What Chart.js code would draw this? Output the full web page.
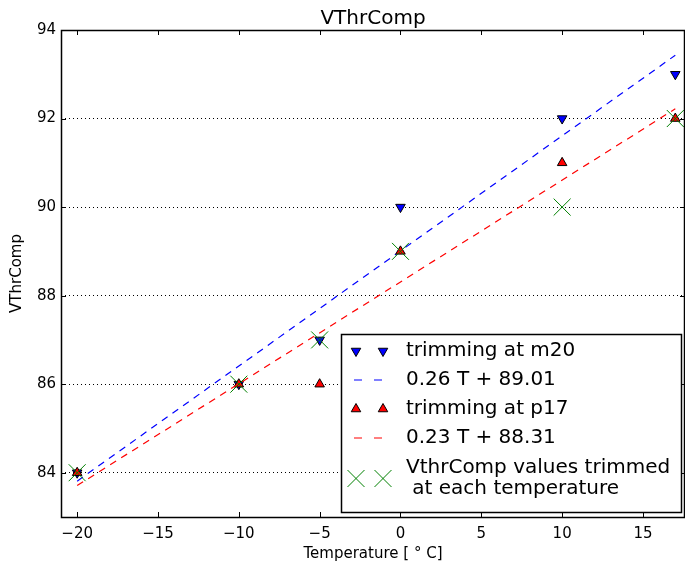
<!DOCTYPE html>
<html>
<head>
<meta charset="utf-8">
<script src="https://cdn.jsdelivr.net/npm/chart.js@4"></script>
<style>
  html, body { margin: 0; padding: 0; background: #fff; overflow: hidden; }
  #wrap { width: 685px; height: 567px; position: relative; }
</style>
</head>
<body>
<div id="wrap"><canvas id="vthr"></canvas></div>
<script>
(function () {
    'use strict';
    // values
    var temps = [-20, -10, -5, 0, 10, 17];
    var m20Values = [84, 86, 87, 90, 92, 93];
    var p17Values = [84, 86, 86, 89, 91, 92];
    var trimmedValues = [84, 86, 87, 89, 90, 92];
    var fitX = [-20, 17];
    var m20Fit = [83.81, 93.43];
    var p17Fit = [83.71, 92.22];
    var xTicks = [-20, -15, -10, -5, 0, 5, 10, 15];
    var yTicks = [84, 86, 88, 90, 92, 94];
    var legendLabels = ['trimming at m20', '0.26 T + 89.01', 'trimming at p17', '0.23 T + 88.31',
        'VthrComp values trimmed', ' at each temperature'];

    var FONT = 'DejaVu Sans';
    function pts(xs, ys) { return xs.map(function (x, i) { return { x: x, y: ys[i] }; }); }
    function fmt(v) { return v < 0 ? '\u2212' + Math.abs(v) : String(v); }

    var framePlugin = {
        id: 'frame',
        afterDatasetsDraw: function (chart) {
            var ctx = chart.ctx, a = chart.chartArea;
            var xs = chart.scales.x, ys = chart.scales.y;
            ctx.save();
            ctx.strokeStyle = '#000';
            ctx.lineWidth = 1;
            ctx.beginPath();
            xTicks.forEach(function (t) {
                var px = Math.round(xs.getPixelForValue(t)) + 0.5;
                ctx.moveTo(px, a.bottom); ctx.lineTo(px, a.bottom - 5);
                ctx.moveTo(px, a.top); ctx.lineTo(px, a.top + 5);
            });
            yTicks.forEach(function (t) {
                var py = Math.round(ys.getPixelForValue(t)) + 0.5;
                ctx.moveTo(a.left, py); ctx.lineTo(a.left + 5, py);
                ctx.moveTo(a.right, py); ctx.lineTo(a.right - 5, py);
            });
            ctx.stroke();
            ctx.lineWidth = 1.5;
            ctx.strokeRect(a.left + 0.5, a.top + 0.5, a.right - a.left - 1, a.bottom - a.top);
            ctx.fillStyle = '#000';
            ctx.font = '20px "' + FONT + '"';
            ctx.textAlign = 'center';
            ctx.textBaseline = 'alphabetic';
            ctx.fillText('VThrComp', (a.left + a.right) / 2, 24);
            ctx.restore();
        },
        afterDraw: function (chart) {
            var ctx = chart.ctx, a = chart.chartArea;
            var bx = a.right - 344, by = a.bottom - 183, bw = 340, bh = 178;
            var mx1 = bx + 15, mx2 = bx + 42, tx = bx + 65;
            var rows = [by + 17, by + 46, by + 75, by + 104, by + 134, by + 155];
            var draw = Chart.helpers.drawPoint;
            ctx.save();
            ctx.fillStyle = '#fff';
            ctx.fillRect(bx, by, bw, bh);
            ctx.strokeStyle = '#000';
            ctx.lineWidth = 1.5;
            ctx.strokeRect(bx + 0.5, by + 0.5, bw, bh);
            // markers
            ctx.lineWidth = 1;
            [mx1, mx2].forEach(function (mx) {
                ctx.fillStyle = '#0000ff'; ctx.strokeStyle = '#000';
                draw(ctx, { pointStyle: 'triangle', radius: 5.5, rotation: 180, borderWidth: 1 }, mx, rows[0]);
                ctx.fillStyle = '#ff0000';
                draw(ctx, { pointStyle: 'triangle', radius: 5.5, rotation: 0, borderWidth: 1 }, mx, rows[2]);
                ctx.strokeStyle = '#008000';
                draw(ctx, { pointStyle: 'crossRot', radius: 12, rotation: 0, borderWidth: 1 }, mx, (rows[4] + rows[5]) / 2);
            });
            ctx.lineWidth = 1.2;
            [[rows[1], '#0000ff'], [rows[3], '#ff0000']].forEach(function (r) {
                ctx.strokeStyle = r[1];
                ctx.beginPath();
                ctx.moveTo(mx1 - 2, r[0]); ctx.lineTo(mx1 + 6, r[0]);
                ctx.moveTo(mx2 - 9, r[0]); ctx.lineTo(mx2 - 1, r[0]);
                ctx.stroke();
            });
            ctx.fillStyle = '#000';
            ctx.font = '20px "' + FONT + '"';
            ctx.textAlign = 'left';
            ctx.textBaseline = 'middle';
            legendLabels.forEach(function (t, i) { ctx.fillText(t, tx, rows[i]); });
            ctx.restore();
        }
    };

    new Chart(document.getElementById('vthr'), {
        type: 'scatter',
        data: {
            datasets: [
                { label: legendLabels[4], data: pts(temps, trimmedValues), order: 0,
                  pointStyle: 'crossRot', pointRadius: 12, pointBorderColor: '#008000',
                  pointBackgroundColor: '#008000', pointBorderWidth: 1 },
                { label: legendLabels[3], data: pts(fitX, p17Fit), order: 1, showLine: true,
                  borderColor: '#ff0000', borderWidth: 1.2, borderDash: [7, 6], pointRadius: 0 },
                { label: legendLabels[2], data: pts(temps, p17Values), order: 2,
                  pointStyle: 'triangle', pointRadius: 5.5, pointBackgroundColor: '#ff0000',
                  pointBorderColor: '#000', pointBorderWidth: 1 },
                { label: legendLabels[1], data: pts(fitX, m20Fit), order: 3, showLine: true,
                  borderColor: '#0000ff', borderWidth: 1.2, borderDash: [7, 6], pointRadius: 0 },
                { label: legendLabels[0], data: pts(temps, m20Values), order: 4,
                  pointStyle: 'triangle', pointRotation: 180, pointRadius: 5.5,
                  pointBackgroundColor: '#0000ff', pointBorderColor: '#000', pointBorderWidth: 1 }
            ]
        },
        options: {
            responsive: true, maintainAspectRatio: false, animation: false,
            layout: { autoPadding: false, padding: { top: 30, right: 0, left: 0, bottom: 0 } },
            plugins: { legend: { display: false }, title: { display: false }, tooltip: { enabled: false } },
            scales: {
                x: {
                    type: 'linear', min: -21, max: 17.6,
                    afterBuildTicks: function (s) { s.ticks = xTicks.map(function (v) { return { value: v }; }); },
                    afterFit: function (s) { s.height = 50; s.paddingLeft = 0; s.paddingRight = 0; },
                    grid: { display: false, drawTicks: false },
                    border: { display: false },
                    ticks: { color: '#000', padding: 8, maxRotation: 0, autoSkip: false,
                             font: { family: FONT, size: 15 }, callback: fmt },
                    title: { display: true, text: 'Temperature [ \u00B0 C]', color: '#000',
                             font: { family: FONT, size: 15 }, padding: { top: 0, bottom: 4 } }
                },
                y: {
                    type: 'linear', min: 83, max: 94,
                    afterBuildTicks: function (s) { s.ticks = yTicks.map(function (v) { return { value: v }; }); },
                    afterFit: function (s) { s.width = 61; s.paddingTop = 0; s.paddingBottom = 0; },
                    grid: { color: '#000', lineWidth: 1, drawTicks: false },
                    border: { display: false, dash: [1, 3] },
                    ticks: { color: '#000', padding: 5, autoSkip: false,
                             font: { family: FONT, size: 15 }, callback: fmt },
                    title: { display: true, text: 'VThrComp', color: '#000',
                             font: { family: FONT, size: 15 }, padding: { top: 8, bottom: 0 } }
                }
            }
        },
        plugins: [framePlugin]
    });
})();
</script>
</body>
</html>
